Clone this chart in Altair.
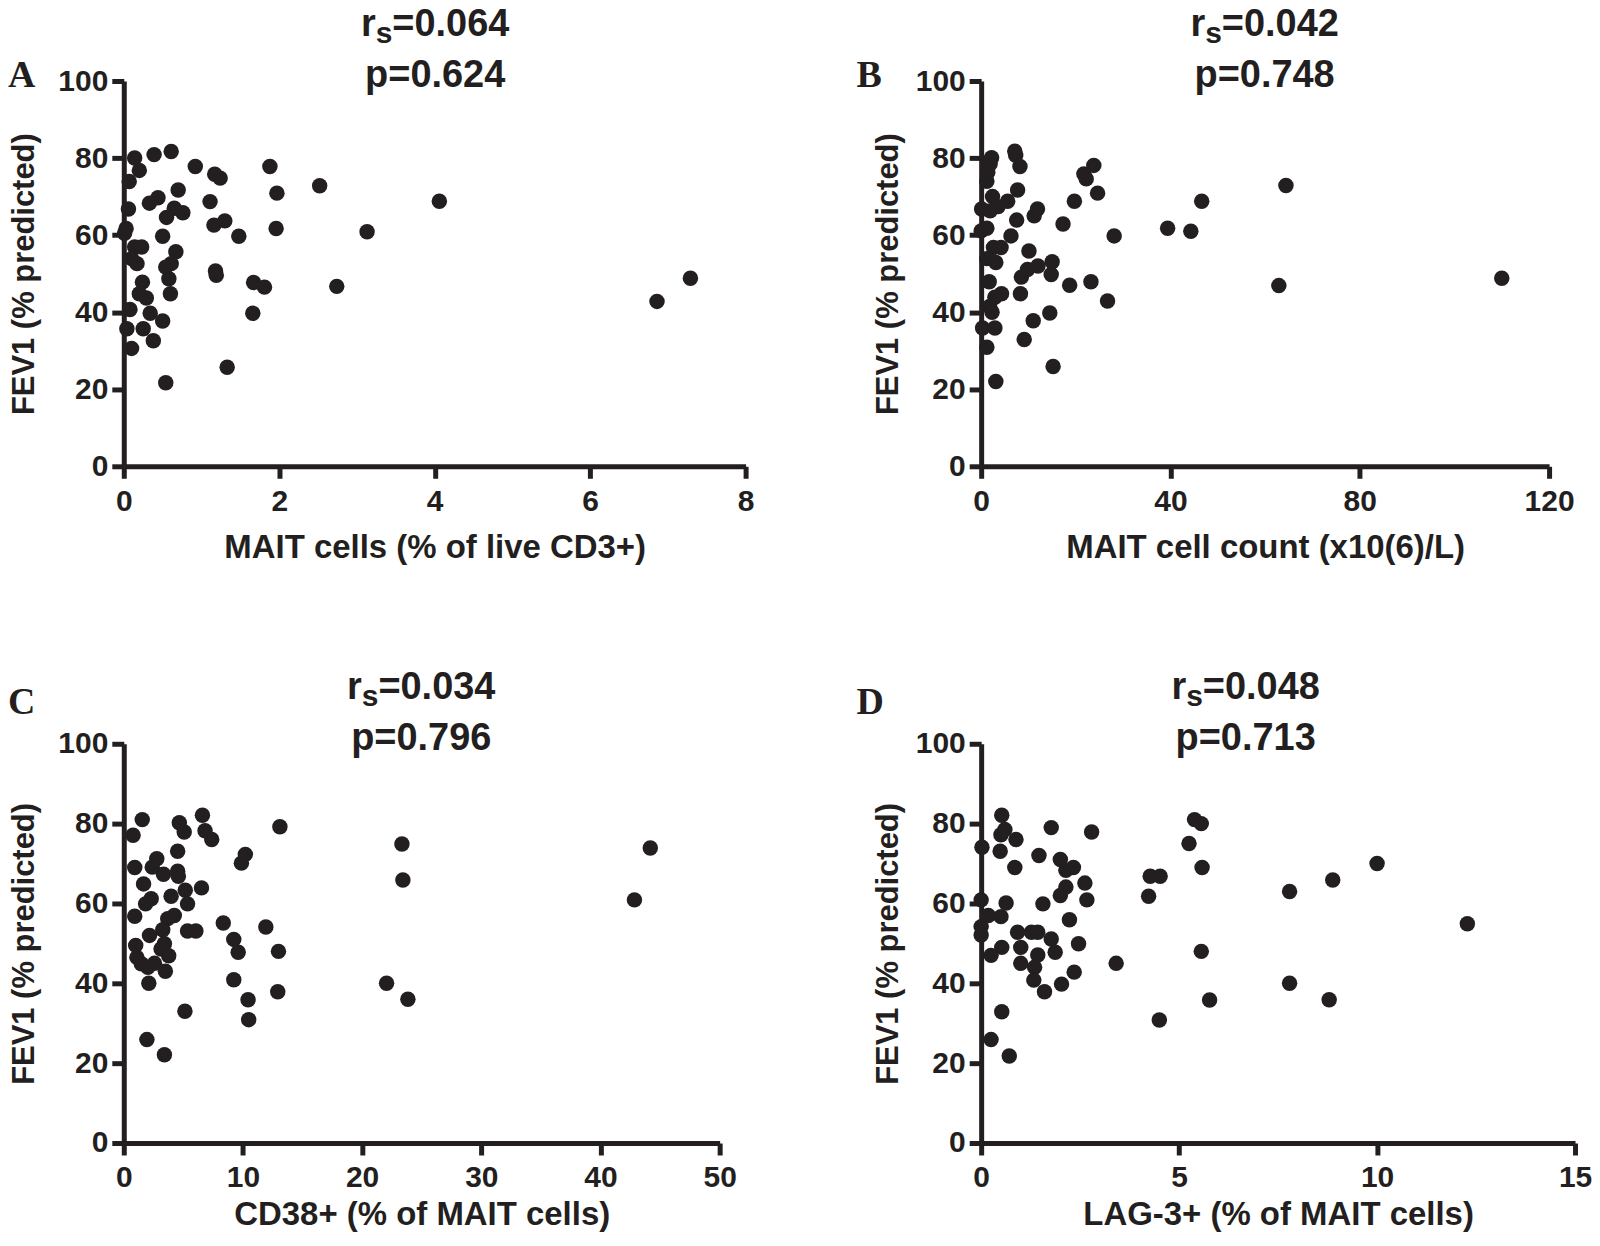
import altair as alt
import pandas as pd

INK = "#231f20"
SANS = "Liberation Sans, Arial, sans-serif"
SERIF = "Liberation Serif, Times New Roman, serif"

Y_TICKS = [0, 20, 40, 60, 80, 100]
Y_TITLE = "FEV1 (% predicted)"

# ---- Panel A: MAIT cells (% of live CD3+) ----
a_x = [0.14, 0.39, 0.61, 0.20, 0.92, 1.17, 1.24, 1.88, 2.52, 0.07, 0.70, 1.97, 0.44, 0.33,
       1.11, 0.06, 0.65, 0.76, 0.55, 1.16, 1.30, 0.03, 0.01, 0.50, 1.48, 1.96, 3.13, 0.14,
       0.23, 0.10, 0.17, 0.67, 0.61, 0.54, 0.58, 0.60, 1.18, 1.19, 1.67, 1.81, 2.74, 0.24,
       0.20, 0.29, 0.08, 0.34, 0.50, 0.04, 0.25, 0.38, 0.10, 1.66, 1.33, 0.54, 4.06, 6.86, 7.29]
a_y = [80.0, 80.9, 81.7, 76.8, 77.8, 75.8, 74.8, 77.8, 72.8, 73.9, 71.7, 70.9, 69.7, 68.3,
       68.7, 66.8, 67.0, 65.8, 64.6, 62.6, 63.7, 61.7, 60.5, 59.7, 59.7, 61.7, 60.9, 56.9,
       56.9, 53.9, 52.6, 55.7, 52.6, 51.7, 48.7, 44.8, 50.7, 49.6, 47.7, 46.5, 46.7, 47.8,
       44.8, 43.7, 40.7, 39.7, 37.7, 35.7, 35.7, 32.6, 30.6, 39.7, 25.7, 21.7, 68.8, 42.8, 48.8]

# ---- Panel B: MAIT cell count (x10(6)/L) ----
b_x = [2.2, 1.9, 1.4, 1.2, 7.1, 7.3, 8.2, 23.8, 21.7, 22.2, 24.6, 7.7, 19.7, 46.6, 2.4, 5.6,
       3.6, 1.9, 0.1, 11.9, 11.2, 7.5, 17.3, 1.2, 0.0, 6.3, 28.1, 39.4, 44.3, 2.6, 4.2, 1.2,
       3.1, 10.1, 8.5, 9.8, 12.0, 15.0, 14.8, 1.7, 18.7, 23.2, 26.7, 8.3, 4.3, 2.9, 1.8, 2.3,
       0.3, 2.9, 14.5, 11.0, 9.1, 1.2, 15.2, 3.1, 62.9, 110.0, 64.4]
b_y = [80.1, 78.5, 76.3, 74.0, 81.8, 80.7, 77.8, 78.1, 75.9, 74.6, 70.9, 71.7, 68.8, 68.8, 70.0, 68.8,
       67.4, 66.3, 66.8, 66.8, 65.0, 63.9, 62.9, 61.8, 61.1, 59.8, 59.8, 61.8, 61.0, 56.8, 56.8, 53.9,
       52.9, 55.9, 49.1, 51.1, 52.0, 53.1, 49.8, 47.9, 47.0, 47.9, 42.9, 44.8, 44.8, 43.9, 41.5, 40.0,
       35.9, 35.9, 39.8, 37.8, 32.9, 30.9, 25.9, 22.0, 46.9, 48.8, 72.9]

# ---- Panel C: CD38+ (% of MAIT cells) ----
c_x = [1.55, 0.78, 4.66, 5.07, 6.60, 6.82, 7.38, 13.10, 4.52, 0.92, 2.77, 2.39, 3.33, 4.52, 4.58,
       10.20, 9.87, 1.66, 6.52, 5.16, 3.97, 2.30, 1.83, 5.35, 0.92, 4.24, 3.69, 8.35, 5.35, 6.05,
       2.16, 3.27, 9.23, 9.60, 11.92, 12.98, 1.00, 3.41, 3.13, 3.77, 1.10, 1.47, 2.58, 2.02, 3.49,
       2.10, 9.23, 12.92, 10.43, 10.48, 5.13, 1.94, 3.41, 22.05, 23.34, 23.42, 23.84, 42.85, 44.18]
c_y = [81.0, 77.1, 80.2, 77.9, 82.1, 78.2, 76.0, 79.2, 73.1, 69.0, 71.2, 69.1, 67.3, 68.1, 66.8,
       72.3, 70.1, 64.9, 63.9, 63.3, 61.8, 61.2, 59.9, 59.9, 56.8, 57.0, 56.2, 55.1, 53.1, 53.1,
       52.0, 53.4, 51.0, 47.8, 54.1, 48.0, 49.5, 49.9, 48.6, 46.9, 46.5, 44.9, 45.0, 44.0, 43.0,
       40.0, 40.9, 37.9, 35.9, 30.9, 33.0, 25.9, 22.1, 40.0, 74.9, 65.9, 36.0, 60.9, 73.9]

# ---- Panel D: LAG-3+ (% of MAIT cells) ----
d_x = [0.52, 0.50, 0.60, 0.88, 0.48, 0.02, 1.77, 2.79, 1.46, 0.85, 2.00, 2.33, 2.14, 2.62, 2.67,
       2.14, 2.00, 1.56, 0.63, 0.00, 0.18, 0.50, 0.00, 0.00, 2.23, 0.92, 1.27, 1.43, 1.77, 1.87,
       2.46, 0.52, 0.25, 1.00, 1.43, 1.00, 1.35, 1.33, 1.60, 2.03, 2.35, 3.41, 0.52, 0.25, 0.71,
       4.23, 4.27, 4.52, 4.50, 5.25, 5.39, 5.56, 5.58, 5.56, 5.77, 7.79, 7.79, 8.88, 8.79, 10.00, 12.28]
d_y = [82.1, 77.2, 78.5, 76.0, 73.1, 74.1, 79.0, 77.9, 72.0, 69.0, 71.0, 69.0, 68.3, 65.1, 60.9,
       64.1, 62.0, 59.9, 60.1, 60.9, 57.0, 56.7, 54.2, 52.1, 55.9, 52.8, 52.8, 52.8, 51.1, 47.8,
       49.9, 49.0, 47.0, 49.0, 47.1, 45.0, 44.0, 40.8, 37.9, 39.8, 42.8, 45.0, 32.9, 25.9, 21.8,
       61.8, 66.8, 66.8, 30.8, 75.0, 81.0, 80.0, 69.0, 48.0, 35.8, 63.0, 40.0, 65.9, 35.9, 70.0, 54.9]

# approximate Liberation Sans Bold advance widths (em) for placing the subscript title
ADV = {"r": 0.389, "s": 0.556, "=": 0.584, ".": 0.278, "p": 0.611}


def text_width(s, size):
    return sum(ADV.get(ch, 0.556) for ch in s) * size


def text_layer(txt, x, y, size, align="left", baseline="alphabetic", font=SANS):
    return alt.Chart(pd.DataFrame({"t": [txt]})).mark_text(
        x=x, y=y, align=align, baseline=baseline, font=font, fontSize=size,
        fontWeight="bold", color=INK
    ).encode(text="t:N")


def panel(xs, ys, domain, ticks, w, h, xtitle, xtitle_y, ytitle_x, rs, pv, title_cx,
          letter, letter_x, letter_y):
    df = pd.DataFrame({"x": xs, "y": ys})
    xaxis = alt.Axis(values=ticks, title=xtitle, titleX=w / 2, titleY=xtitle_y,
                     titleBaseline="middle", titleAlign="center", labelFlush=False,
                     labelPadding=8, labelBaseline="top", titleFontSize=33)
    yaxis = alt.Axis(values=Y_TICKS, title=Y_TITLE, titleX=ytitle_x, titleY=h / 2,
                     titleBaseline="middle", titleAlign="center", titleAngle=-90,
                     labelPadding=4, titleFontSize=31)
    pts = alt.Chart(df).mark_circle(size=240, color=INK, opacity=1).encode(
        x=alt.X("x:Q", scale=alt.Scale(domain=domain, nice=False, zero=False), axis=xaxis),
        y=alt.Y("y:Q", scale=alt.Scale(domain=[0, 100], nice=False), axis=yaxis),
    )
    big, small = 38, 30
    w_r = text_width("r", big)
    w_s = text_width("s", small)
    rest = "=" + rs
    total = w_r + w_s + text_width(rest, big)
    left = title_cx - total / 2
    layers = [
        pts,
        text_layer("r", left, -45, big),
        text_layer("s", left + w_r, -38, small),
        text_layer(rest, left + w_r + w_s, -45, big),
        text_layer("p=" + pv, title_cx, 6, big, align="center"),
        text_layer(letter, letter_x, letter_y, 38, baseline="middle", font=SERIF),
    ]
    return alt.layer(*layers).properties(width=w, height=h)


pA = panel(a_x, a_y, [0, 8], [0, 2, 4, 6, 8], 623, 386, "MAIT cells (% of live CD3+)", 81,
           -99, "0.064", "0.624", 312, "A", -116, -5)
pB = panel(b_x, b_y, [0, 120], [0, 40, 80, 120], 569, 386, "MAIT cell count (x10(6)/L)", 81,
           -93, "0.042", "0.748", 284, "B", -125, -5)
pC = panel(c_x, c_y, [0, 50], [0, 10, 20, 30, 40, 50], 597, 400, "CD38+ (% of MAIT cells)", 72,
           -99, "0.034", "0.796", 298, "C", -116, -41)
pD = panel(d_x, d_y, [0, 15], [0, 5, 10, 15], 595, 400, "LAG-3+ (% of MAIT cells)", 72,
           -93, "0.048", "0.713", 265, "D", -125, -41)

top = alt.hconcat(pA, pB, spacing=236, bounds="flush")
bottom = alt.hconcat(pC, pD, spacing=262, bounds="flush")

chart = alt.vconcat(top, bottom, spacing=105).properties(
    padding={"left": 0, "top": -3, "right": 0, "bottom": 0},
    background="white",
).configure_view(stroke=None).configure_axis(
    domainColor=INK, domainWidth=5, tickColor=INK, tickWidth=5, tickSize=12,
    labelFont=SANS, labelFontSize=30, labelFontWeight="bold", labelColor=INK,
    titleFont=SANS, titleFontWeight="bold", titleColor=INK,
    grid=False, labelOverlap=False
)

chart.save("out.html", embed_options={"renderer": "svg", "actions": False})
